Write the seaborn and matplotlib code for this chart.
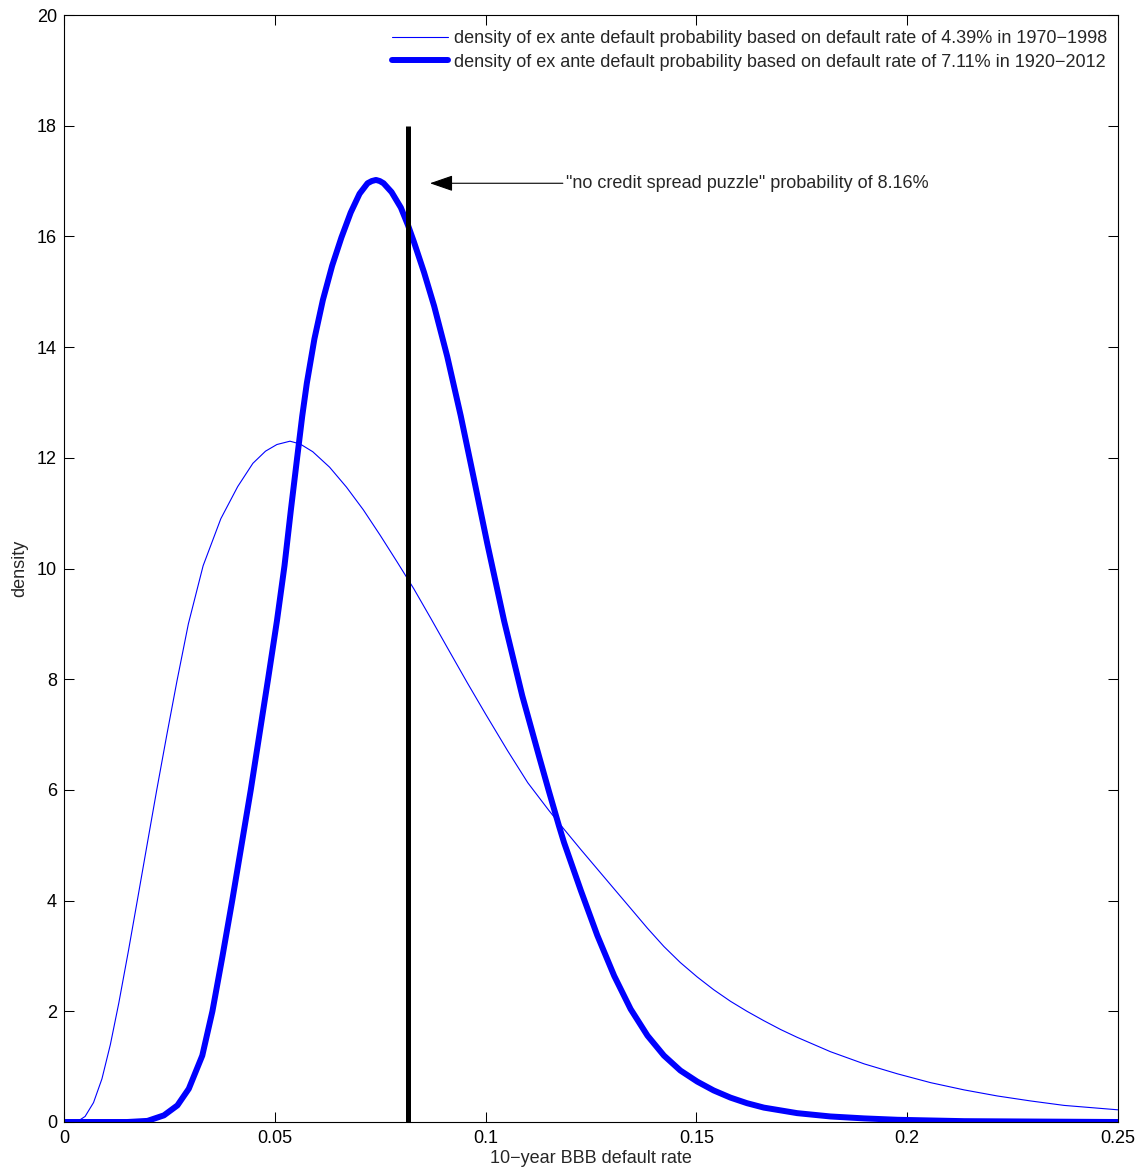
# ======================================
# IMPORTS
import matplotlib
matplotlib.use("Agg")
import matplotlib.pyplot as plt
import seaborn as sns

# ======================================
# DATA
rate_1970 = [0.0, 0.0030, 0.0050, 0.0070, 0.0090, 0.0110, 0.0130, 0.0153, 0.0175,
             0.0198, 0.0220, 0.0244, 0.0268, 0.0295, 0.0330, 0.0372, 0.0412, 0.0448,
             0.0478, 0.0505, 0.0536, 0.0560, 0.0590, 0.0630, 0.0670, 0.0710, 0.0750,
             0.0790, 0.0830, 0.0870, 0.0910, 0.0957, 0.1000, 0.1052, 0.1100, 0.1150,
             0.1186, 0.1225, 0.1265, 0.1305, 0.1344, 0.1384, 0.1423, 0.1462, 0.1502,
             0.1541, 0.1581, 0.1620, 0.1660, 0.1700, 0.1739, 0.1818, 0.1898, 0.1977,
             0.2056, 0.2135, 0.2214, 0.2293, 0.2372, 0.25]
dens_1970 = [0.0, 0.0, 0.10, 0.35, 0.78, 1.40, 2.15, 3.10, 4.05,
             5.05, 6.00, 7.00, 7.97, 9.00, 10.05, 10.90, 11.48, 11.90,
             12.12, 12.24, 12.30, 12.25, 12.11, 11.83, 11.47, 11.06, 10.60,
             10.12, 9.63, 9.10, 8.56, 7.93, 7.37, 6.71, 6.13, 5.63,
             5.29, 4.93, 4.57, 4.21, 3.86, 3.50, 3.17, 2.88, 2.62,
             2.39, 2.18, 2.00, 1.83, 1.67, 1.53, 1.27, 1.05, 0.87,
             0.71, 0.58, 0.47, 0.38, 0.30, 0.22]

rate_1920 = [0.0, 0.0150, 0.0198, 0.0237, 0.0269, 0.0296, 0.0328, 0.0352, 0.0376,
             0.0399, 0.0443, 0.0484, 0.0505, 0.0523, 0.0538, 0.0553, 0.0565, 0.0576,
             0.0594, 0.0614, 0.0636, 0.0658, 0.0680, 0.0701, 0.0720, 0.0730, 0.0740,
             0.0749, 0.0758, 0.0777, 0.0799, 0.0816, 0.0830, 0.0854, 0.0878, 0.0909,
             0.0941, 0.0972, 0.1004, 0.1044, 0.1087, 0.1127, 0.1150, 0.1174, 0.1186,
             0.1226, 0.1265, 0.1305, 0.1344, 0.1384, 0.1423, 0.1462, 0.1502, 0.1541,
             0.1581, 0.1620, 0.1660, 0.1739, 0.1818, 0.1898, 0.1977, 0.2135, 0.25]
dens_1920 = [0.0, 0.0, 0.02, 0.12, 0.30, 0.60, 1.20, 2.00, 3.00,
             4.00, 6.00, 8.00, 9.05, 10.05, 11.05, 12.00, 12.75, 13.35,
             14.15, 14.85, 15.47, 15.98, 16.43, 16.77, 16.96, 17.00, 17.02,
             17.00, 16.96, 16.80, 16.52, 16.20, 15.90, 15.35, 14.74, 13.83,
             12.76, 11.63, 10.45, 9.05, 7.70, 6.60, 5.98, 5.35, 5.05,
             4.18, 3.37, 2.64, 2.04, 1.56, 1.20, 0.93, 0.73, 0.57,
             0.44, 0.34, 0.26, 0.16, 0.10, 0.065, 0.04, 0.015, 0.0]

puzzle_prob = 0.0816
puzzle_top = 18
arrow_tip = 0.0868
arrow_text_x = 0.1191
arrow_y = 16.96

x_ticks = [0, 0.05, 0.1, 0.15, 0.2, 0.25]
x_tick_labels = ["0", "0.05", "0.1", "0.15", "0.2", "0.25"]
y_ticks = [0, 2, 4, 6, 8, 10, 12, 14, 16, 18, 20]

legend_labels = [
    "density of ex ante default probability based on default rate of 4.39% in 1970\u22121998",
    "density of ex ante default probability based on default rate of 7.11% in 1920\u22122012",
]
note_text = "\"no credit spread puzzle\" probability of 8.16%"

# ======================================
# STYLE
sns.set_style("ticks")
plt.rcParams["font.family"] = ["Liberation Sans", "DejaVu Sans"]
FS = 13

fig = plt.figure(figsize=(11.41, 11.71), dpi=100)
ax = fig.add_axes([64 / 1141, 49 / 1171, 1054 / 1141, 1107 / 1171])

# ======================================
# CURVES
sns.lineplot(x=rate_1970, y=dens_1970, color="blue", linewidth=0.8,
             label=legend_labels[0], ax=ax)
sns.lineplot(x=rate_1920, y=dens_1920, color="blue", linewidth=4.3,
             label=legend_labels[1], ax=ax)

ax.vlines(puzzle_prob, 0, puzzle_top, color="black", linewidth=3.6, zorder=5)

ax.annotate(note_text, xy=(arrow_tip, arrow_y), xytext=(arrow_text_x, arrow_y),
            fontsize=FS, ha="left", va="center",
            arrowprops=dict(arrowstyle="-|>,head_length=1.1,head_width=0.38",
                            color="black", lw=0.8, shrinkA=0, shrinkB=0,
                            relpos=(0, 0.5)))

# ======================================
# AXES
ax.set_xlim(0, 0.25)
ax.set_ylim(0, 20)
ax.set_xticks(x_ticks)
ax.set_xticklabels(x_tick_labels)
ax.set_yticks(y_ticks)
ax.tick_params(direction="in", top=True, right=True, length=7, width=0.75,
               labelsize=FS, colors="black")
ax.tick_params(axis="x", pad=6)
ax.tick_params(axis="y", pad=5)
for s in ax.spines.values():
    s.set_visible(True)
    s.set_linewidth(0.8)
    s.set_color("black")

ax.set_xlabel("10\u2212year BBB default rate", fontsize=FS, labelpad=2)
ax.set_ylabel("density", fontsize=FS, labelpad=6)

ax.legend(loc="upper right", bbox_to_anchor=(1.0, 1.0 - 4 / 1107), frameon=False,
          fontsize=FS, handlelength=3.1, handletextpad=0.33, borderaxespad=0.2,
          labelspacing=0.37)

fig.savefig("out.png", dpi=100)
